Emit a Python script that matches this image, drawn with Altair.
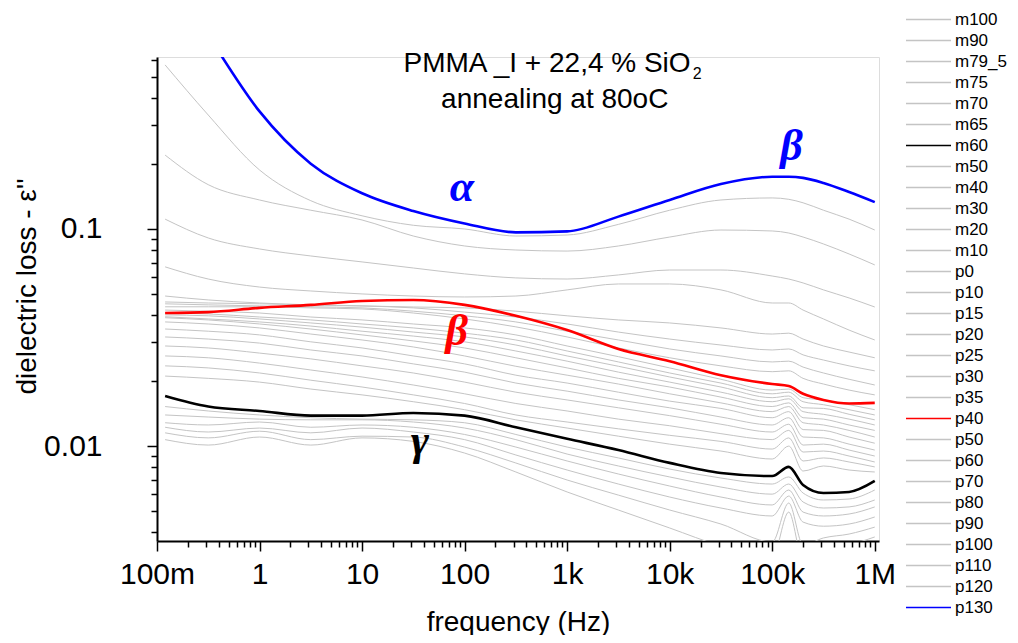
import json
import altair as alt
import pandas as pd

# ---------------- data ----------------
freq = [0.12, 0.316, 1, 3.16, 10, 31.6, 100, 316, 1000, 3160, 10000, 31600,
        100000, 145000, 200000, 316000, 562000, 1000000]

m100 = [0.0107, 0.0101, 0.0110, 0.0101, 0.0109, 0.0105, 0.00928, 0.00759, 0.00614, 0.00507, 0.00419, 0.00346, 0.00305, 0.00496, 0.00298, 0.00332, 0.00350, 0.00381]
m90 = [0.0115, 0.0109, 0.0117, 0.0107, 0.0111, 0.0110, 0.00989, 0.00835, 0.00697, 0.00594, 0.00507, 0.00437, 0.00361, 0.00546, 0.00350, 0.00377, 0.00393, 0.00423]
m79_5 = [0.0122, 0.0116, 0.0121, 0.0115, 0.0121, 0.0116, 0.0107, 0.00909, 0.00775, 0.00668, 0.00582, 0.00518, 0.00476, 0.00588, 0.00446, 0.00427, 0.00437, 0.00471]
m75 = [0.0128, 0.0125, 0.0129, 0.0122, 0.0125, 0.0122, 0.0113, 0.00989, 0.00853, 0.00743, 0.00654, 0.00582, 0.00535, 0.00627, 0.00496, 0.00476, 0.00486, 0.00524]
m70 = [0.0139, 0.0136, 0.0133, 0.0132, 0.0132, 0.0129, 0.0121, 0.0107, 0.00918, 0.00809, 0.00720, 0.00647, 0.00600, 0.00668, 0.00552, 0.00518, 0.00524, 0.00564]
m65 = [0.0152, 0.0145, 0.0139, 0.0135, 0.0133, 0.0132, 0.0128, 0.0113, 0.00989, 0.00881, 0.00783, 0.00712, 0.00668, 0.00720, 0.00607, 0.00564, 0.00570, 0.00627]
m60 = [0.0170, 0.0152, 0.0145, 0.0138, 0.0138, 0.0142, 0.0138, 0.0122, 0.0108, 0.00958, 0.00836, 0.00751, 0.00727, 0.00801, 0.00661, 0.00607, 0.00614, 0.00690]
m50 = [0.0210, 0.0205, 0.0197, 0.0183, 0.0172, 0.0160, 0.0147, 0.0132, 0.0121, 0.0111, 0.0102, 0.00948, 0.00871, 0.00999, 0.00767, 0.00809, 0.00775, 0.00759]
m40 = [0.0234, 0.0229, 0.0217, 0.0201, 0.0187, 0.0172, 0.0157, 0.0139, 0.0129, 0.0120, 0.0112, 0.0105, 0.00968, 0.0109, 0.00853, 0.00881, 0.00844, 0.00801]
m30 = [0.0260, 0.0255, 0.0241, 0.0224, 0.0208, 0.0191, 0.0174, 0.0157, 0.0145, 0.0133, 0.0124, 0.0114, 0.0107, 0.0118, 0.00938, 0.00948, 0.00899, 0.00844]
m20 = [0.0289, 0.0283, 0.0268, 0.0252, 0.0234, 0.0217, 0.0197, 0.0177, 0.0163, 0.0150, 0.0138, 0.0126, 0.0116, 0.0126, 0.0101, 0.0102, 0.00958, 0.00899]
m10 = [0.0318, 0.0311, 0.0298, 0.0277, 0.0260, 0.0239, 0.0219, 0.0195, 0.0179, 0.0163, 0.0150, 0.0136, 0.0125, 0.0135, 0.0110, 0.0109, 0.0102, 0.00958]
p0 = [0.0346, 0.0338, 0.0325, 0.0302, 0.0283, 0.0260, 0.0239, 0.0212, 0.0195, 0.0177, 0.0161, 0.0149, 0.0135, 0.0144, 0.0119, 0.0118, 0.0110, 0.0103]
p10 = [0.0373, 0.0365, 0.0350, 0.0328, 0.0308, 0.0286, 0.0260, 0.0233, 0.0212, 0.0193, 0.0174, 0.0158, 0.0144, 0.0152, 0.0128, 0.0125, 0.0118, 0.0110]
p15 = [0.0390, 0.0381, 0.0365, 0.0346, 0.0325, 0.0305, 0.0283, 0.0255, 0.0229, 0.0205, 0.0187, 0.0168, 0.0152, 0.0158, 0.0135, 0.0133, 0.0125, 0.0118]
p20 = [0.0394, 0.0385, 0.0373, 0.0357, 0.0338, 0.0321, 0.0302, 0.0274, 0.0246, 0.0219, 0.0197, 0.0177, 0.0160, 0.0165, 0.0144, 0.0140, 0.0133, 0.0125]
p25 = [0.0402, 0.0398, 0.0385, 0.0369, 0.0353, 0.0335, 0.0318, 0.0292, 0.0260, 0.0233, 0.0208, 0.0187, 0.0167, 0.0170, 0.0150, 0.0149, 0.0140, 0.0132]
p30 = [0.0410, 0.0406, 0.0393, 0.0381, 0.0365, 0.0350, 0.0331, 0.0308, 0.0274, 0.0244, 0.0217, 0.0195, 0.0174, 0.0177, 0.0160, 0.0155, 0.0147, 0.0139]
p35 = [0.0423, 0.0418, 0.0410, 0.0393, 0.0381, 0.0365, 0.0350, 0.0325, 0.0289, 0.0258, 0.0229, 0.0203, 0.0181, 0.0183, 0.0167, 0.0163, 0.0155, 0.0147]
p40 = [0.0410, 0.0414, 0.0433, 0.0447, 0.0466, 0.0471, 0.0447, 0.0398, 0.0342, 0.0280, 0.0246, 0.0212, 0.0193, 0.0189, 0.0174, 0.0163, 0.0157, 0.0158]
p50 = [0.0438, 0.0438, 0.0438, 0.0433, 0.0428, 0.0410, 0.0385, 0.0354, 0.0318, 0.0283, 0.0255, 0.0234, 0.0220, 0.0222, 0.0205, 0.0193, 0.0181, 0.0172]
p60 = [0.0452, 0.0447, 0.0442, 0.0438, 0.0433, 0.0418, 0.0398, 0.0373, 0.0338, 0.0308, 0.0280, 0.0260, 0.0244, 0.0246, 0.0231, 0.0217, 0.0203, 0.0191]
p70 = [0.0461, 0.0456, 0.0452, 0.0447, 0.0442, 0.0433, 0.0414, 0.0393, 0.0365, 0.0335, 0.0311, 0.0292, 0.0277, 0.0280, 0.0263, 0.0249, 0.0234, 0.0222]
p80 = [0.0491, 0.0471, 0.0456, 0.0447, 0.0442, 0.0437, 0.0433, 0.0418, 0.0398, 0.0381, 0.0369, 0.0350, 0.0328, 0.0331, 0.0311, 0.0289, 0.0271, 0.0255]
p90 = [0.0669, 0.0588, 0.0540, 0.0518, 0.0502, 0.0491, 0.0486, 0.0491, 0.0524, 0.0558, 0.0558, 0.0524, 0.0456, 0.0456, 0.0423, 0.0385, 0.0342, 0.0308]
p100 = [0.111, 0.0909, 0.0809, 0.0751, 0.0705, 0.0661, 0.0621, 0.0595, 0.0588, 0.0614, 0.0647, 0.0647, 0.0607, 0.0588, 0.0564, 0.0524, 0.0481, 0.0437]
p110 = [0.219, 0.160, 0.136, 0.122, 0.110, 0.0928, 0.0835, 0.0800, 0.0791, 0.0835, 0.0918, 0.0989, 0.0979, 0.0958, 0.0918, 0.0853, 0.0767, 0.0683]
p120 = [0.570, 0.335, 0.187, 0.135, 0.115, 0.104, 0.100, 0.0928, 0.0938, 0.105, 0.122, 0.136, 0.139, 0.137, 0.132, 0.122, 0.111, 0.0989]
p130 = [1.6, 0.78, 0.348, 0.200, 0.146, 0.121, 0.106, 0.0965, 0.0975, 0.114, 0.136, 0.161, 0.174, 0.174, 0.172, 0.163, 0.148, 0.133]

names = ["m100", "m90", "m79_5", "m75", "m70", "m65", "m60", "m50", "m40", "m30",
         "m20", "m10", "p0", "p10", "p15", "p20", "p25", "p30", "p35", "p40",
         "p50", "p60", "p70", "p80", "p90", "p100", "p110", "p120", "p130"]
curves = [m100, m90, m79_5, m75, m70, m65, m60, m50, m40, m30,
          m20, m10, p0, p10, p15, p20, p25, p30, p35, p40,
          p50, p60, p70, p80, p90, p100, p110, p120, p130]

highlight_colors = {"m60": "#000000", "p40": "#ff0000", "p130": "#0000ff"}
gray = "#c4c4c4"
colors = [highlight_colors.get(n, gray) for n in names]

# tick values and labels
x_major = [0.1, 1, 10, 100, 1000, 10000, 100000, 1000000]
x_major_labels = ["100m", "1", "10", "100", "1k", "10k", "100k", "1M"]
x_minor = [round(k * 10.0 ** e, 6) for e in range(-1, 6) for k in range(2, 10)]
y_major = [0.01, 0.1]
y_major_labels = ["0.01", "0.1"]
y_minor = [0.004, 0.005, 0.006, 0.007, 0.008, 0.009,
           0.02, 0.03, 0.04, 0.05, 0.06, 0.07, 0.08, 0.09,
           0.2, 0.3, 0.4, 0.5, 0.6]

# annotations
title_lines = ["PMMA _I + 22,4 % SiO", "2", "annealing at 80oC"]
title_freq = [16000, 16750, 757]
title_eps = [0.576, 0.518, 0.393]
title_align = ["right", "left", "center"]
title_size = [28, 16, 28]

greek_text = ["α", "β", "β", "γ"]
greek_freq = [94, 154600, 84, 36.6]
greek_eps = [0.1545, 0.2388, 0.0335, 0.01043]
greek_color = ["#0000ff", "#0000ff", "#ff0000", "#000000"]

# ---------------- build ----------------
rows = []
for n, vals in zip(names, curves):
    for f, v in zip(freq, vals):
        rows.append({"name": n, "freq": f, "eps": v})
df = pd.DataFrame(rows)
df_gray = df[~df["name"].isin(list(highlight_colors))]
df_hl = df[df["name"].isin(list(highlight_colors))]

FONT = "Liberation Sans"


def axis(major, labels, minor, **kw):
    mj = json.dumps(major)
    lb = json.dumps(labels)
    return alt.Axis(
        values=sorted(major + minor),
        labelExpr=f"indexof({mj}, datum.value) >= 0 ? {lb}[indexof({mj}, datum.value)] : ''",
        tickSize={"condition": {"test": f"indexof({mj}, datum.value) >= 0", "value": 10}, "value": 6},
        labelOverlap=False,
        labelFlush=False,
        labelFont=FONT,
        labelFontSize=30,
        labelColor="black",
        domainColor="black",
        domainWidth=2,
        tickColor="black",
        tickWidth=1.5,
        grid=False,
        titleFont=FONT,
        titleFontSize=28,
        titleFontWeight="normal",
        titleColor="black",
        titleBaseline="alphabetic",
        **kw,
    )


x_enc = alt.X("freq:Q", title="frequency (Hz)",
              scale=alt.Scale(type="log", domain=[0.1, 1.1e6]),
              axis=axis(x_major, x_major_labels, x_minor, labelPadding=8, titleY=89))
y_enc = alt.Y("eps:Q", title="dielectric loss - ε''",
              scale=alt.Scale(type="log", domain=[0.00365, 0.62]),
              axis=axis(y_major, y_major_labels, y_minor, labelPadding=45,
                        titleX=-122, titleY=229))

legend = alt.Legend(orient="none", legendX=748, legendY=-48, title=None,
                    symbolType="stroke", symbolSize=2025, symbolStrokeWidth=1.5,
                    clipHeight=21, rowPadding=0, padding=0, symbolOffset=0,
                    labelOffset=3, labelFont=FONT, labelFontSize=17,
                    labelColor="black", labelLimit=0)
color_enc = alt.Color("name:N", scale=alt.Scale(domain=names, range=colors), legend=legend)

gray_layer = alt.Chart(df_gray).mark_line(clip=True, interpolate="monotone", strokeWidth=1).encode(
    x=x_enc, y=y_enc, color=color_enc)
hl_layer = alt.Chart(df_hl).mark_line(clip=True, interpolate="monotone", strokeWidth=2.6).encode(
    x=x_enc, y=y_enc, color=color_enc)

title_df = pd.DataFrame({"freq": title_freq, "eps": title_eps, "t": title_lines})
title_layers = []
for i in range(len(title_lines)):
    title_layers.append(
        alt.Chart(title_df.iloc[[i]]).mark_text(
            align=title_align[i], baseline="middle", font=FONT,
            fontSize=title_size[i], color="black"
        ).encode(x=x_enc, y=y_enc, text="t:N")
    )

greek_df = pd.DataFrame({"freq": greek_freq, "eps": greek_eps, "t": greek_text, "c": greek_color})
greek_layer = alt.Chart(greek_df).mark_text(
    align="center", baseline="middle", font="Liberation Serif", fontSize=44,
    fontStyle="italic", fontWeight="bold"
).encode(x=x_enc, y=y_enc, text="t:N",
         fill=alt.Fill("c:N", scale=None, legend=None))

chart = alt.layer(gray_layer, hl_layer, *title_layers, greek_layer).properties(
    width=722, height=484,
    autosize=alt.AutoSizeParams(type="none"),
    padding={"left": 149, "top": 49, "right": 131, "bottom": 94},
).configure_view(stroke=None).configure(font=FONT, background="white")

chart.save("out.html", embed_options={"renderer": "svg", "actions": False})
